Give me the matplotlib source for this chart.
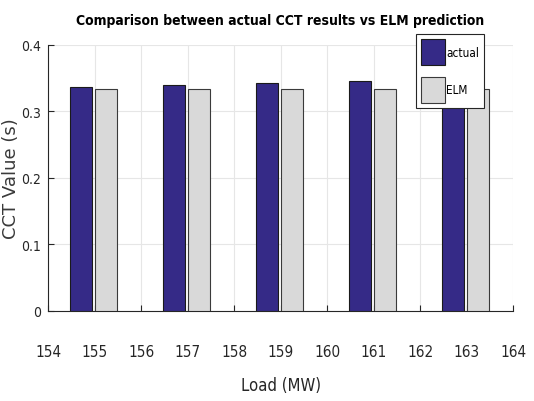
import matplotlib.pyplot as plt
import numpy as np

loads = [155, 157, 159, 161, 163]
actual = [0.337, 0.340, 0.342, 0.345, 0.348]
elm = [0.334, 0.334, 0.334, 0.333, 0.333]
x_ticks = np.arange(154, 165, 1)
y_ticks = [0, 0.1, 0.2, 0.3, 0.4]

plt.rcParams["font.family"] = ["DejaVu Sans"]
plt.rcParams["font.stretch"] = "condensed"

fig = plt.figure(figsize=(5.34, 4.02), dpi=100)
ax = fig.add_axes([0.090, 0.224, 0.871, 0.662])

x = np.array(loads, dtype=float)
ax.bar(x - 0.30, actual, width=0.47, color="#352a87", edgecolor="#1a1a1a",
       linewidth=0.8, label="actual", zorder=3)
ax.bar(x + 0.25, elm, width=0.47, color="#d9d9d9", edgecolor="#3a3a3a",
       linewidth=0.8, label="ELM", zorder=3)

ax.set_xlim(154, 164)
ax.set_ylim(0, 0.4)
ax.set_xticks(x_ticks)
ax.set_xticklabels([str(t) for t in x_ticks])
ax.set_yticks(y_ticks)
ax.set_yticklabels(["0", "0.1", "0.2", "0.3", "0.4"])
ax.grid(True, color="#e6e6e6", linewidth=0.8, zorder=0)
ax.tick_params(colors="#262626", labelsize=11, length=4, direction="in")
ax.tick_params(axis="x", pad=24)
ax.tick_params(axis="y", labelsize=10, pad=5)
for side in ["top", "right"]:
    ax.spines[side].set_visible(False)
for side in ["left", "bottom"]:
    ax.spines[side].set_color("#262626")
    ax.spines[side].set_linewidth(0.8)

ax.set_xlabel("Load (MW)", fontsize=12, color="#262626", labelpad=12)
ax.set_ylabel("CCT Value (s)", fontsize=13, color="#3a3a3a",
              fontstretch="normal", labelpad=1)
ax.set_title("Comparison between actual CCT results vs ELM prediction",
             fontsize=10, fontweight="bold", pad=15)

leg = ax.legend(loc="upper left", bbox_to_anchor=(0.791, 1.041), fontsize=8.5,
                handlelength=2.0, handleheight=3.0, handletextpad=0.1,
                labelspacing=1.0, borderpad=0.45, borderaxespad=0,
                fancybox=False, framealpha=1, edgecolor="#262626")
leg.get_frame().set_linewidth(0.8)
leg.set_zorder(5)

plt.savefig("out.png", dpi=100)
